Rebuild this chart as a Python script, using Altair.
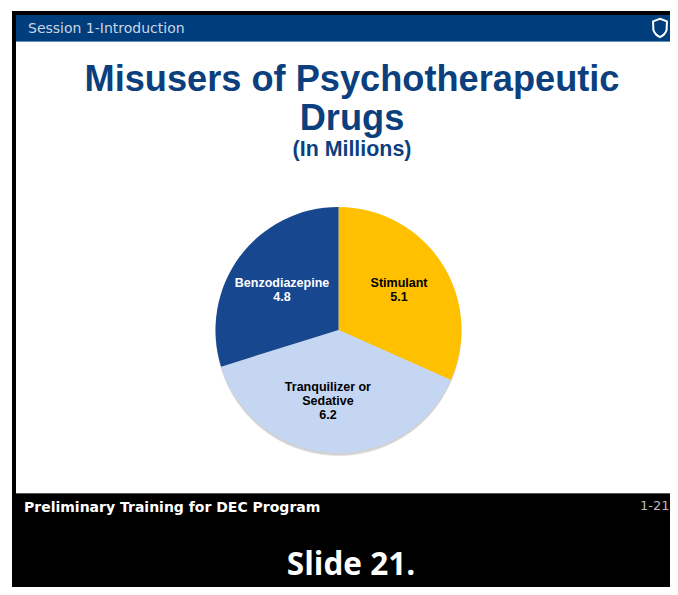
import altair as alt
import pandas as pd

categories = ["Stimulant", "Tranquilizer or\nSedative", "Benzodiazepine"]
values = [5.1, 6.2, 4.8]
labels = ["Stimulant\n5.1", "Tranquilizer or\nSedative\n6.2", "Benzodiazepine\n4.8"]
slice_colors = ["#ffc000", "#c5d6f3", "#17478f"]
label_colors = ["#000000", "#000000", "#ffffff"]
label_offsets = [(3.5, -10), (-6.6, -11), (-1.7, -6.7)]

title_lines = ["Misusers of Psychotherapeutic", "Drugs"]
subtitle = "(In Millions)"
header = "Session 1-Introduction"
footer = "Preliminary Training for DEC Program"
page_number = "1-21"
caption = "Slide 21."

W, H = 662, 579
OX, OY = 8, 8
CX, CY = 338.5 - OX, 330 - OY
R = 123

pie_data = pd.DataFrame({
    "category": categories,
    "value": values,
    "label": labels,
    "idx": list(range(len(values))),
})


def box(x0, y0, x1, y1, color):
    return alt.Chart(pd.DataFrame({"a": [0]})).mark_rect(color=color).encode(
        x=alt.value(x0 - OX), x2=alt.value(x1 - OX),
        y=alt.value(y0 - OY), y2=alt.value(y1 - OY),
    )


def text(s, x, y, size, color, font="Liberation Sans", weight="normal", align="left"):
    return alt.Chart(pd.DataFrame({"t": [s]})).mark_text(
        font=font, fontSize=size, fontWeight=weight, color=color, align=align, baseline="alphabetic",
    ).encode(text="t:N", x=alt.value(x - OX), y=alt.value(y - OY))


theta = alt.Theta("value:Q", stack=True)
order = alt.Order("idx:Q")

layers = [
    box(12, 11, 678, 595, "#000000"),
    box(16, 15, 678, 41, "#003d7c"),
    box(16, 41, 678, 42, "#5f8fbf"),
    box(16, 42, 678, 493, "#ffffff"),
    box(16, 493, 678, 494, "#555555"),
    text(header, 28, 33, 14, "#c9d6e4", font="DejaVu Sans"),
    alt.Chart(pd.DataFrame({"a": [0]})).mark_point(
        shape="M0,-1 L0.75,-0.72 L0.72,0.2 Q0.6,0.7 0,1 Q-0.6,0.7 -0.72,0.2 L-0.75,-0.72 Z",
        filled=False, stroke="#ffffff", strokeWidth=2, size=340, opacity=1,
    ).encode(x=alt.value(660 - OX), y=alt.value(28 - OY)),
    text(title_lines[0], 352, 91, 36.2, "#0b3f7e", weight="bold", align="center"),
    text(title_lines[1], 352, 130, 36.2, "#0b3f7e", weight="bold", align="center"),
    text(subtitle, 352, 156, 21.4, "#0b3f7e", weight="bold", align="center"),
]

# soft shadow under the pie
for off, rad, op in [(4, 122, 0.05), (3, 123, 0.06), (2, 123, 0.08)]:
    layers.append(
        alt.Chart(pie_data).mark_arc(radius=rad, color="#000000", opacity=op).encode(
            theta=theta, order=order, detail="category:N",
            x=alt.value(CX), y=alt.value(CY + off),
        )
    )

layers.append(
    alt.Chart(pie_data).mark_arc(radius=R).encode(
        theta=theta, order=order,
        color=alt.Color("category:N", scale=alt.Scale(domain=categories, range=slice_colors), legend=None),
        x=alt.value(CX), y=alt.value(CY),
    )
)

for i in range(len(categories)):
    dx, dy = label_offsets[i]
    layers.append(
        alt.Chart(pie_data).transform_calculate(
            shown=f"datum.idx == {i} ? datum.label : ''"
        ).mark_text(
            radius=68, font="Liberation Sans", fontSize=12.5, fontWeight="bold",
            color=label_colors[i], lineBreak="\n", lineHeight=14, align="center",
            baseline="middle", dx=dx, dy=dy,
        ).encode(
            theta=theta, order=order, detail="category:N", text="shown:N",
            x=alt.value(CX), y=alt.value(CY),
        )
    )

layers += [
    text(footer, 24, 512, 14, "#ffffff", font="DejaVu Sans", weight="bold"),
    text(page_number, 640, 510, 13, "#bbbbbb", font="DejaVu Sans"),
    text(caption, 351, 575, 31.5, "#ffffff", font="Open Sans", weight="bold", align="center"),
]

chart = alt.layer(*layers).properties(
    width=W, height=H, padding=0, background="#ffffff",
    autosize=alt.AutoSizeParams(type="none"),
).configure_view(stroke=None)

chart.save("out.html", embed_options={"renderer": "svg", "actions": False})
